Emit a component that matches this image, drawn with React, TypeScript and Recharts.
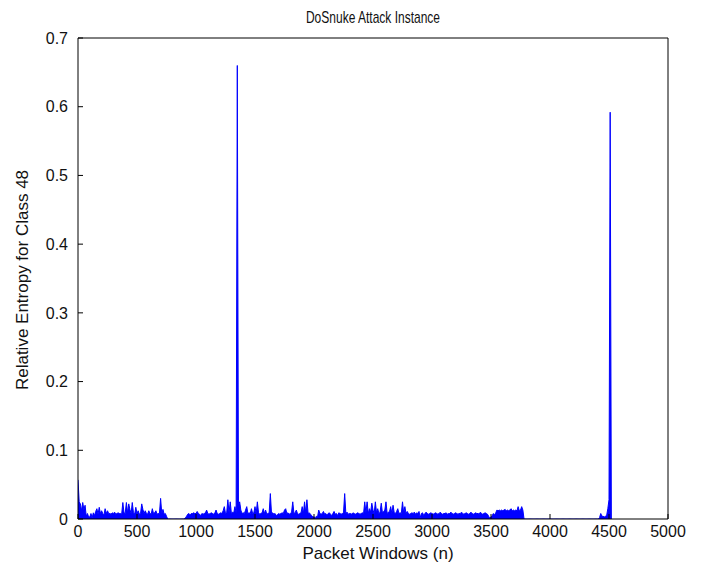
import React from 'react';
import { AreaChart, Area, XAxis, YAxis } from 'recharts';

// relative entropy, in thousandths, one value every 10 packet windows
const windowStep = 10;

const entropy0to990 = [
  57, 25, 22, 12, 24, 14, 20, 4, 8, 3,
  3, 8, 2, 9, 5, 11, 15, 7, 17, 8,
  12, 8, 6, 15, 8, 12, 8, 8, 7, 9,
  8, 10, 7, 8, 9, 8, 8, 7, 24, 9,
  8, 24, 9, 22, 14, 8, 24, 9, 7, 17,
  8, 12, 7, 8, 22, 14, 8, 12, 8, 7,
  12, 8, 7, 15, 8, 9, 12, 7, 8, 8,
  30, 8, 14, 7, 8, 4, 0, 0, 0, 0,
  0, 0, 0, 0, 0, 0, 0, 0, 0, 0,
  0, 2, 4, 7, 8, 6, 8, 8, 9, 8,
];

const entropy1000to1990 = [
  8, 11, 8, 7, 5, 8, 7, 8, 9, 13,
  8, 7, 8, 9, 8, 7, 9, 13, 8, 7,
  8, 9, 8, 12, 18, 8, 9, 28, 9, 25,
  8, 10, 9, 18, 9, 660, 18, 25, 13, 8,
  9, 8, 13, 18, 8, 9, 8, 15, 8, 9,
  18, 8, 25, 9, 7, 8, 9, 15, 8, 13,
  7, 8, 9, 37, 8, 9, 7, 8, 5, 6,
  8, 7, 8, 9, 8, 13, 15, 8, 9, 7,
  8, 10, 25, 8, 9, 13, 8, 7, 8, 9,
  18, 8, 25, 9, 28, 8, 9, 7, 5, 3,
];

const entropy2000to2990 = [
  3, 2, 4, 3, 13, 8, 7, 8, 11, 7,
  8, 6, 8, 9, 7, 5, 8, 11, 7, 8,
  5, 9, 8, 7, 8, 9, 37, 8, 10, 7,
  8, 8, 7, 9, 8, 7, 8, 9, 8, 7,
  8, 9, 8, 25, 9, 25, 8, 15, 10, 23,
  13, 8, 25, 9, 15, 8, 10, 23, 9, 11,
  13, 25, 8, 10, 11, 18, 8, 20, 9, 8,
  11, 15, 8, 9, 8, 25, 9, 18, 8, 11,
  8, 7, 8, 9, 8, 10, 7, 9, 8, 11,
  2, 8, 9, 5, 8, 10, 8, 7, 8, 9,
];

const entropy3000to3990 = [
  8, 7, 8, 9, 8, 7, 8, 10, 8, 7,
  8, 8, 9, 7, 8, 8, 10, 8, 7, 8,
  9, 8, 7, 8, 8, 10, 8, 7, 8, 9,
  8, 7, 8, 10, 8, 7, 8, 9, 8, 8,
  7, 10, 8, 7, 8, 9, 8, 7, 4, 1,
  3, 5, 8, 6, 9, 13, 12, 13, 12, 13,
  12, 13, 14, 12, 13, 12, 13, 15, 12, 13,
  12, 13, 12, 18, 12, 13, 18, 13, 0, 0,
  0, 0, 0, 0, 0, 0, 0, 0, 0, 0,
  0, 0, 0, 0, 0, 0, 0, 0, 0, 0,
];

const entropy4000to4520 = [
  0, 0, 0, 0, 0, 0, 0, 0, 0, 0,
  0, 0, 0, 0, 0, 0, 0, 0, 0, 0,
  0, 0, 0, 0, 0, 0, 0, 0, 0, 0,
  0, 0, 0, 0, 0, 0, 0, 0, 0, 0,
  0, 0, 2, 8, 4, 4, 3, 4, 5, 15,
  28, 592, 0,
];

const xTicks = [0, 500, 1000, 1500, 2000, 2500, 3000, 3500, 4000, 4500, 5000];
const yTicks = [0, 0.1, 0.2, 0.3, 0.4, 0.5, 0.6, 0.7];

const data = [
  ...entropy0to990,
  ...entropy1000to1990,
  ...entropy2000to2990,
  ...entropy3000to3990,
  ...entropy4000to4520,
].map((v, i) => ({ n: i * windowStep, entropy: v / 1000 }));

const FONT = '"Liberation Sans", Arial, sans-serif';

const labelStyle: React.CSSProperties = {
  position: 'absolute',
  fontFamily: FONT,
  fontSize: 17,
  color: '#111',
  whiteSpace: 'nowrap',
  lineHeight: 1,
};

export default function App() {
  return (
    <div style={{ position: 'absolute', left: 0, top: 0, width: 706, height: 572, background: '#fff' }}>
      <AreaChart
        width={706}
        height={572}
        data={data}
        margin={{ top: 38, right: 38, bottom: 0, left: 0 }}
      >
        <XAxis
          dataKey="n"
          type="number"
          domain={[0, 5000]}
          ticks={xTicks}
          allowDataOverflow
          height={53}
          tickSize={-5}
          tickMargin={12}
          tick={{ fill: '#111', fontSize: 16, fontFamily: FONT }}
          stroke="#000"
          interval={0}
        />
        <XAxis
          xAxisId="top"
          orientation="top"
          type="number"
          domain={[0, 5000]}
          ticks={xTicks}
          allowDataOverflow
          mirror
          tickSize={5}
          tick={false}
          stroke="#000"
          interval={0}
        />
        <YAxis
          type="number"
          domain={[0, 0.7]}
          ticks={yTicks}
          allowDataOverflow
          width={78}
          tickSize={-5}
          tickMargin={15}
          tick={{ fill: '#111', fontSize: 16, fontFamily: FONT }}
          stroke="#000"
          interval={0}
        />
        <YAxis
          yAxisId="right"
          orientation="right"
          type="number"
          domain={[0, 0.7]}
          ticks={yTicks}
          allowDataOverflow
          mirror
          tickSize={5}
          tick={false}
          stroke="#000"
          interval={0}
        />
        <Area
          type="linear"
          dataKey="entropy"
          stroke="#0000ff"
          strokeWidth={1}
          fill="#0000ff"
          fillOpacity={1}
          dot={false}
          activeDot={false}
          isAnimationActive={false}
        />
      </AreaChart>
      <div style={{ ...labelStyle, left: 378, top: 553, transform: 'translate(-50%,-50%)' }}>
        Packet Windows (n)
      </div>
      <div style={{ ...labelStyle, left: 373, top: 17, fontSize: 12, transform: 'translate(-50%,-50%) scaleY(1.4)' }}>
        DoSnuke Attack Instance
      </div>
      <div style={{ ...labelStyle, left: 22, top: 280, transform: 'translate(-50%,-50%) rotate(-90deg)' }}>
        Relative Entropy for Class 48
      </div>
    </div>
  );
}
